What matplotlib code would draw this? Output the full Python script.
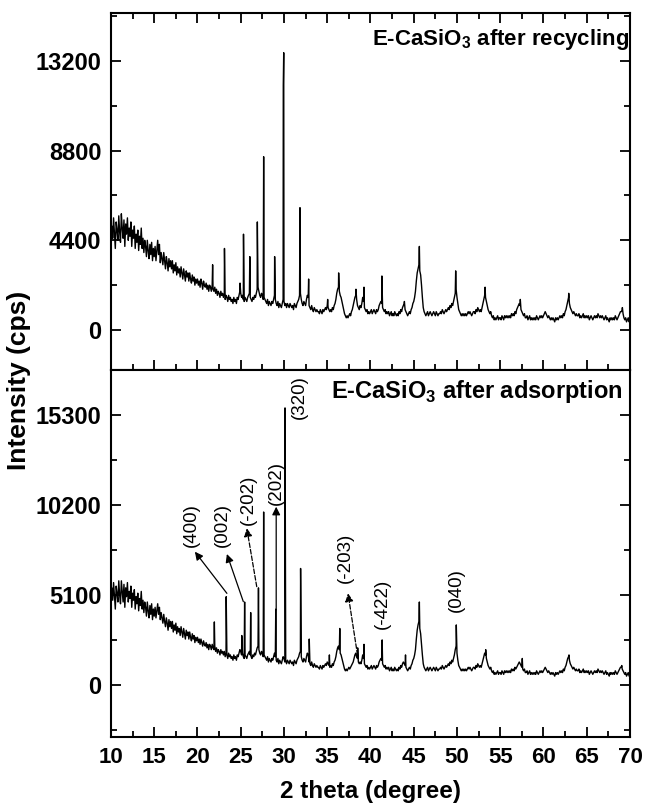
import numpy as np
import matplotlib
matplotlib.use("Agg")
import matplotlib.pyplot as plt
from matplotlib.ticker import MultipleLocator, FixedLocator

plt.rcParams['font.family'] = ['Liberation Sans', 'DejaVu Sans']
plt.rcParams['mathtext.fontset'] = 'custom'
plt.rcParams['mathtext.rm'] = 'Liberation Sans'
plt.rcParams['mathtext.bf'] = 'Liberation Sans:bold'

# ---------------- data ----------------
two_theta_start = 10.0
two_theta_step = 0.1
bg_unit = 100  # background values below are given in hundreds of cps

# background of "after recycling" pattern, 10.0 .. 70.0 every 0.1 degree (x100 cps)
bg_recycling = [
    42, 51, 45, 55, 47, 40, 53, 49, 44, 56,
    48, 43, 57, 50, 45, 54, 41, 52, 47, 55,
    44, 50, 46, 53, 41, 49, 45, 51, 40, 47,
    43, 49, 39, 46, 42, 50, 40, 45, 38, 44,
    41, 36, 44, 39, 35, 42, 37, 43, 34, 40,
    36, 41, 34, 39, 44, 37, 42, 33, 38, 35,
    32, 38, 34, 30, 36, 33, 29, 35, 31, 34,
    30, 34, 28, 32, 29, 33, 27, 31, 28, 30,
    26, 31, 28, 25, 30, 27, 24, 29, 26, 28,
    24, 28, 25, 23, 27, 24, 26, 22, 25, 23,
    25, 22, 24, 21, 25, 23, 20, 24, 22, 21,
    23, 20, 22, 19, 22, 21, 19, 22, 20, 19,
    21, 18, 20, 17, 19, 18, 16, 19, 17, 18,
    16, 18, 15, 17, 16, 14, 17, 15, 16, 14,
    15, 13, 16, 14, 15, 13, 16, 15, 17, 19,
    18, 16, 17, 15, 14, 16, 15, 14, 16, 17,
    18, 16, 15, 14, 16, 15, 17, 16, 18, 20,
    21, 19, 17, 16, 18, 17, 15, 16, 15, 14,
    13, 15, 12, 14, 13, 12, 14, 13, 15, 17,
    15, 13, 12, 14, 11, 13, 12, 11, 13, 15,
    14, 12, 13, 11, 13, 12, 11, 13, 12, 11,
    12, 10, 13, 12, 11, 13, 14, 15, 17, 18,
    15, 13, 12, 14, 13, 12, 15, 17, 16, 12,
    11, 10, 12, 10, 9, 11, 10, 9, 10, 9,
    9, 8, 10, 9, 8, 10, 9, 10, 11, 10,
    12, 11, 10, 9, 10, 9, 11, 10, 12, 13,
    15, 18, 20, 21, 19, 17, 16, 14, 12, 10,
    8, 7, 6, 7, 6, 7, 8, 7, 9, 10,
    12, 14, 16, 17, 15, 12, 11, 10, 12, 11,
    13, 16, 14, 11, 10, 9, 10, 8, 9, 8,
    9, 10, 8, 9, 10, 9, 8, 10, 9, 10,
    12, 13, 14, 13, 11, 10, 9, 10, 8, 9,
    8, 9, 7, 8, 9, 7, 8, 7, 9, 8,
    7, 8, 7, 9, 8, 10, 9, 11, 12, 13,
    10, 9, 8, 7, 8, 9, 8, 10, 11, 13,
    14, 16, 19, 24, 28, 30, 32, 29, 27, 22,
    16, 11, 9, 8, 7, 8, 9, 7, 8, 9,
    8, 7, 8, 9, 8, 7, 9, 8, 7, 8,
    8, 9, 8, 10, 9, 8, 9, 10, 9, 10,
    11, 10, 12, 11, 13, 12, 14, 16, 18, 20,
    16, 13, 10, 9, 8, 7, 8, 7, 8, 7,
    8, 7, 8, 9, 8, 9, 8, 7, 8, 9,
    9, 8, 10, 9, 11, 10, 9, 10, 9, 11,
    13, 15, 17, 16, 14, 12, 10, 9, 8, 9,
    7, 6, 7, 5, 6, 5, 6, 7, 5, 6,
    6, 5, 7, 6, 5, 7, 6, 7, 6, 7,
    6, 7, 6, 8, 7, 8, 7, 9, 8, 10,
    11, 12, 13, 12, 10, 9, 8, 7, 8, 6,
    6, 7, 5, 6, 7, 5, 6, 5, 6, 5,
    6, 5, 7, 6, 5, 6, 7, 6, 7, 6,
    7, 8, 9, 8, 7, 6, 7, 6, 5, 6,
    5, 6, 5, 4, 6, 5, 6, 5, 6, 7,
    6, 7, 6, 8, 7, 9, 10, 12, 14, 16,
    13, 11, 10, 9, 8, 9, 8, 7, 8, 7,
    7, 8, 6, 7, 6, 7, 8, 6, 7, 6,
    7, 6, 7, 5, 6, 7, 6, 5, 6, 7,
    6, 7, 6, 8, 7, 6, 7, 6, 7, 6,
    5, 6, 7, 5, 6, 5, 4, 6, 5, 6,
    5, 6, 5, 7, 6, 5, 6, 7, 8, 9,
    9, 10, 8, 6, 5, 6, 4, 5, 6, 4,
    5,
]
peak_x_recycling = [21.75, 23.12, 24.92, 25.32, 26.05, 26.92, 27.65, 28.92, 29.92, 29.97,
                    31.85, 32.85, 35.05, 36.32, 38.32, 39.25, 41.32, 43.92, 45.65, 49.85,
                    53.25, 57.32, 62.92, 69.12]
peak_y_recycling = [3200, 4000, 2300, 4700, 3600, 5300, 8500, 3600, 12000, 13600,
                    6000, 2500, 1500, 2800, 2000, 2100, 2650, 1400, 4100, 2900,
                    2100, 1500, 1800, 1100]

# background of "after adsorption" pattern, 10.0 .. 70.0 every 0.1 degree (x100 cps)
bg_adsorption = [
    45, 55, 48, 58, 50, 43, 56, 52, 47, 59,
    51, 46, 59, 53, 47, 57, 44, 55, 50, 58,
    47, 53, 49, 56, 44, 52, 48, 54, 43, 50,
    46, 52, 42, 49, 45, 53, 43, 48, 41, 47,
    44, 39, 47, 42, 38, 45, 40, 46, 37, 43,
    39, 44, 38, 42, 46, 40, 44, 37, 41, 38,
    35, 40, 36, 33, 38, 35, 31, 37, 33, 36,
    32, 36, 30, 34, 31, 35, 29, 33, 30, 32,
    28, 33, 30, 27, 32, 29, 26, 31, 28, 30,
    26, 30, 27, 25, 29, 26, 28, 24, 27, 25,
    27, 24, 26, 23, 26, 24, 22, 25, 23, 22,
    24, 21, 23, 20, 23, 22, 20, 23, 21, 20,
    22, 19, 21, 18, 20, 19, 17, 20, 18, 19,
    17, 19, 16, 18, 17, 15, 18, 16, 17, 15,
    16, 14, 17, 15, 16, 14, 17, 16, 18, 20,
    19, 17, 18, 16, 15, 17, 16, 15, 17, 18,
    19, 17, 16, 15, 17, 16, 18, 17, 19, 21,
    22, 20, 18, 17, 19, 18, 16, 17, 16, 15,
    14, 16, 13, 15, 14, 13, 15, 14, 16, 18,
    16, 14, 13, 15, 12, 14, 13, 12, 14, 16,
    15, 13, 14, 12, 14, 13, 12, 14, 13, 12,
    13, 11, 14, 13, 12, 14, 15, 16, 18, 19,
    16, 14, 13, 15, 14, 13, 16, 18, 17, 13,
    12, 11, 13, 11, 10, 12, 11, 10, 11, 10,
    10, 9, 11, 10, 9, 11, 10, 11, 12, 11,
    13, 12, 11, 10, 11, 10, 12, 11, 13, 14,
    16, 19, 21, 22, 20, 18, 17, 15, 13, 11,
    9, 8, 9, 8, 9, 10, 9, 10, 11, 12,
    13, 15, 17, 18, 16, 15, 13, 12, 13, 12,
    14, 17, 15, 12, 11, 10, 11, 9, 10, 9,
    10, 11, 9, 10, 11, 10, 9, 11, 10, 11,
    13, 14, 15, 14, 12, 11, 10, 11, 9, 10,
    9, 10, 8, 9, 10, 8, 9, 8, 10, 9,
    8, 9, 8, 10, 9, 11, 10, 12, 13, 12,
    11, 10, 9, 8, 9, 10, 9, 11, 12, 14,
    15, 17, 20, 26, 31, 34, 36, 32, 29, 23,
    17, 12, 10, 9, 8, 9, 10, 8, 9, 10,
    9, 8, 9, 10, 9, 8, 10, 9, 8, 9,
    9, 10, 9, 11, 10, 9, 10, 11, 10, 11,
    12, 11, 13, 12, 14, 13, 15, 17, 20, 22,
    18, 14, 11, 10, 9, 8, 9, 8, 9, 8,
    9, 8, 9, 10, 9, 10, 9, 8, 9, 10,
    10, 9, 11, 10, 12, 11, 10, 11, 10, 12,
    14, 16, 18, 17, 15, 13, 11, 10, 9, 10,
    8, 7, 8, 6, 7, 6, 7, 8, 6, 7,
    7, 6, 8, 7, 6, 8, 7, 8, 7, 8,
    7, 8, 7, 9, 8, 9, 8, 10, 9, 10,
    11, 12, 13, 12, 11, 10, 9, 8, 9, 7,
    7, 8, 6, 7, 8, 6, 7, 6, 7, 6,
    7, 6, 8, 7, 6, 7, 8, 7, 8, 7,
    8, 9, 10, 9, 8, 7, 8, 7, 6, 7,
    6, 7, 6, 5, 7, 6, 7, 6, 7, 8,
    7, 8, 7, 9, 8, 10, 11, 13, 15, 16,
    14, 12, 11, 10, 9, 10, 9, 8, 9, 8,
    8, 9, 7, 8, 7, 8, 9, 7, 8, 7,
    8, 7, 8, 6, 7, 8, 7, 6, 7, 8,
    7, 8, 7, 9, 8, 7, 8, 7, 8, 7,
    6, 7, 8, 6, 7, 6, 5, 7, 6, 7,
    6, 7, 6, 8, 7, 6, 7, 8, 9, 10,
    10, 9, 8, 7, 6, 7, 5, 6, 7, 5,
    5,
]
peak_x_adsorption = [21.95, 23.32, 25.12, 25.45, 26.15, 27.05, 27.65, 29.05, 30.12,
                     31.92, 32.92, 35.25, 36.45, 38.52, 39.25, 41.35, 44.05, 45.65,
                     49.92, 53.32, 57.55, 62.95, 69.05]
peak_y_adsorption = [3570, 5000, 2800, 4700, 4100, 5500, 9800, 4300, 15700,
                     6600, 2600, 1700, 3200, 2100, 2300, 2550, 1700, 4700,
                     3400, 2000, 1500, 1700, 1100]

# Miller index labels (bottom panel)
hkl_labels = ['(400)', '(002)', '(-202)', '(202)', '(320)', '(-203)', '(-422)', '(040)']
hkl_text_x = [19.3, 22.9, 25.9, 29.15, 31.8, 37.05, 41.4, 49.95]
hkl_text_y = [9060, 9060, 10480, 11440, 16300, 7200, 4590, 5380]
hkl_arrow_from = [(23.4, 5190), (25.3, 4720), (26.85, 5570), (29.1, 4250), None, (38.5, 1700), None, None]
hkl_arrow_to = [(19.7, 7550), (23.4, 7420), (25.7, 8880), (29.1, 10100), None, (37.4, 5190), None, None]
hkl_arrow_dashed = [False, False, True, False, False, True, False, False]

x_ticks = [10, 15, 20, 25, 30, 35, 40, 45, 50, 55, 60, 65, 70]
y_ticks_recycling = [0, 4400, 8800, 13200]
y_ticks_adsorption = [0, 5100, 10200, 15300]


def build_pattern(bg, px, py):
    bx = two_theta_start + two_theta_step * np.arange(len(bg))
    x = np.concatenate([bx, np.asarray(px, float)])
    y = np.concatenate([np.asarray(bg, float) * bg_unit, np.asarray(py, float)])
    order = np.argsort(x, kind='stable')
    return x[order], y[order]


# ---------------- figure ----------------
fig = plt.figure(figsize=(6.46, 8.05), dpi=100)
L, R = 0.1718, 0.9752
ax1 = fig.add_axes([L, 0.5404, R - L, 0.9839 - 0.5404])
ax2 = fig.add_axes([L, 0.0845, R - L, 0.5404 - 0.0845], sharex=ax1)

x1, y1 = build_pattern(bg_recycling, peak_x_recycling, peak_y_recycling)
x2, y2 = build_pattern(bg_adsorption, peak_x_adsorption, peak_y_adsorption)
ax1.plot(x1, y1, color='black', lw=1.0)
ax2.plot(x2, y2, color='black', lw=1.0)

ax1.set_xlim(10, 70)
ax1.set_ylim(-1960, 15550)
ax2.set_ylim(-2950, 17850)

ax1.xaxis.set_major_locator(FixedLocator(x_ticks))
ax1.xaxis.set_minor_locator(MultipleLocator(2.5))
ax1.yaxis.set_major_locator(FixedLocator(y_ticks_recycling))
ax1.yaxis.set_minor_locator(MultipleLocator(2200))
ax2.yaxis.set_major_locator(FixedLocator(y_ticks_adsorption))
ax2.yaxis.set_minor_locator(MultipleLocator(2550))

for ax in (ax1, ax2):
    for s in ax.spines.values():
        s.set_linewidth(1.5)
    ax.tick_params(which='both', direction='in', width=1.3, right=True)
    ax.tick_params(which='major', length=7)
    ax.tick_params(which='minor', length=4)
    ax.tick_params(axis='y', labelsize=17, pad=7)
    for lab in ax.get_yticklabels():
        lab.set_fontweight('bold')

ax1.tick_params(axis='x', which='both', top=True, bottom=True, labelbottom=False)
ax2.tick_params(axis='x', which='both', top=False, bottom=True, labelsize=16, pad=7)
for lab in ax2.get_xticklabels():
    lab.set_fontweight('bold')

ax1.text(0.999, 0.910, r'E-CaSiO$_\mathbf{3}$ after recycling', transform=ax1.transAxes,
         ha='right', va='baseline', fontsize=16, fontweight='bold')
ax2.text(0.985, 0.924, r'E-CaSiO$_\mathbf{3}$ after adsorption', transform=ax2.transAxes,
         ha='right', va='baseline', fontsize=17, fontweight='bold')

for i, lab in enumerate(hkl_labels):
    ax2.text(hkl_text_x[i], hkl_text_y[i], lab, rotation=90, ha='center', va='center',
             fontsize=13.5)
    if hkl_arrow_from[i] is not None:
        ax2.annotate('', xy=hkl_arrow_to[i], xytext=hkl_arrow_from[i],
                     arrowprops=dict(arrowstyle='-|>', color='black', lw=0.9,
                                     linestyle='--' if hkl_arrow_dashed[i] else '-',
                                     mutation_scale=12, shrinkA=0, shrinkB=0))

ax2.set_xlabel('2 theta (degree)', fontsize=17.5, fontweight='bold', labelpad=9)
fig.text(0.030, 0.528, 'Intensity (cps)', rotation=90, ha='center', va='center',
         fontsize=19, fontweight='bold')

fig.savefig('out.png', dpi=100)
